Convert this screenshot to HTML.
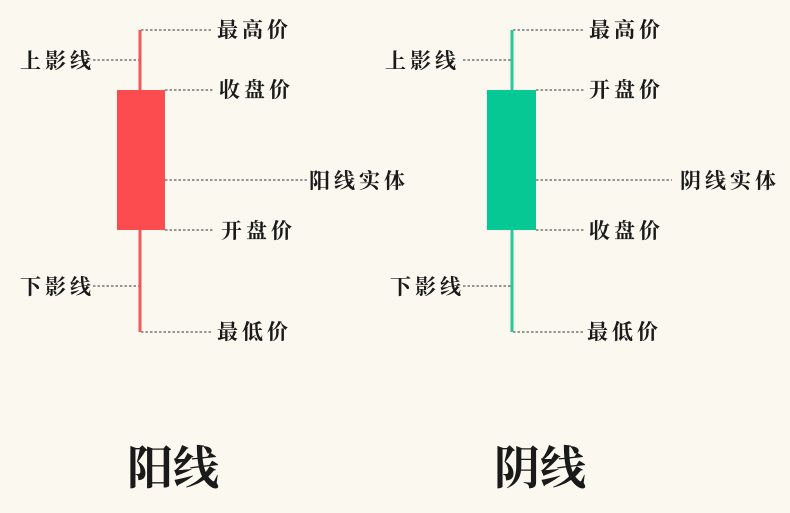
<!DOCTYPE html>
<html><head><meta charset="utf-8"><style>
html,body{margin:0;padding:0;background:#fbf8f0;}
svg text{font-family:"Liberation Serif","Noto Serif CJK SC",serif;fill:#1a1a1a;font-weight:bold;}
</style></head><body>
<svg width="790" height="508" xmlns="http://www.w3.org/2000/svg">
<rect width="790" height="508" fill="#fbf8f0"/>
<g stroke="#333" stroke-width="1" stroke-dasharray="2.5,2">
<line x1="141" y1="30" x2="213" y2="30"/>
<line x1="93" y1="60" x2="139" y2="60"/>
<line x1="165" y1="90" x2="213" y2="90"/>
<line x1="165" y1="180" x2="308" y2="180"/>
<line x1="165" y1="230" x2="213" y2="230"/>
<line x1="93" y1="286" x2="139" y2="286"/>
<line x1="141" y1="332" x2="213" y2="332"/>
<line x1="513" y1="30" x2="585" y2="30"/>
<line x1="463" y1="60" x2="511" y2="60"/>
<line x1="536" y1="90" x2="585" y2="90"/>
<line x1="536" y1="180" x2="672" y2="180"/>
<line x1="536" y1="230" x2="585" y2="230"/>
<line x1="463" y1="286" x2="511" y2="286"/>
<line x1="513" y1="332" x2="585" y2="332"/>
</g>
<rect x="138.5" y="30" width="3" height="302" fill="#f0585a"/>
<rect x="117" y="90" width="48" height="140" fill="#fd4c4f"/>
<rect x="510.5" y="30" width="3" height="302" fill="#27c996"/>
<rect x="487" y="90" width="49" height="140" fill="#06c894"/>
<g font-size="21" letter-spacing="4">
<text x="217" y="37">最高价</text>
<text x="20" y="68">上影线</text>
<text x="219" y="97">收盘价</text>
<text x="309" y="188">阳线实体</text>
<text x="221" y="238">开盘价</text>
<text x="20" y="294">下影线</text>
<text x="217" y="339">最低价</text>
<text x="589" y="37">最高价</text>
<text x="385" y="68">上影线</text>
<text x="589" y="97">开盘价</text>
<text x="680" y="188">阴线实体</text>
<text x="589" y="238">收盘价</text>
<text x="390" y="294">下影线</text>
<text x="587" y="339">最低价</text>
</g>
<g font-size="46">
<text x="127" y="484">阳线</text>
<text x="494" y="484">阴线</text>
</g>
</svg>
</body></html>
